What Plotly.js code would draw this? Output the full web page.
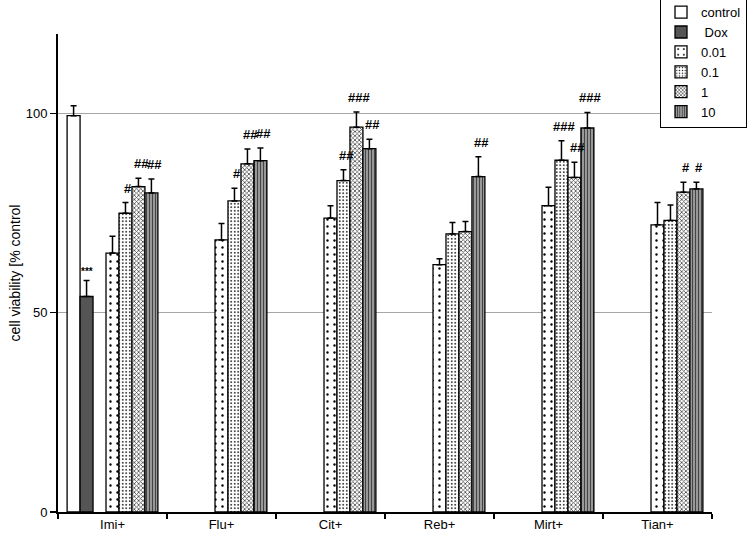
<!DOCTYPE html>
<html>
<head>
<meta charset="utf-8">
<script src="https://cdn.plot.ly/plotly-3.0.1.min.js"></script>
<style>
  html, body { margin: 0; padding: 0; background: #fff; }
  #chart { width: 750px; height: 538px; }
</style>
</head>
<body>
<div id="chart"></div>
<script>
// ---- data ----
const categories = ['Imi+', 'Flu+', 'Cit+', 'Reb+', 'Mirt+', 'Tian+'];

const controlVals = [99.5, null, null, null, null, null];
const controlErr  = [2.5, 0, 0, 0, 0, 0];
const controlSig  = ['', '', '', '', '', ''];

const doxVals = [54.1, null, null, null, null, null];
const doxErr  = [4.0, 0, 0, 0, 0, 0];
const doxSig  = ['***', '', '', '', '', ''];

const c001Vals = [65.0, 68.3, 73.8, 62.1, 76.9, 72.1];
const c001Err  = [4.2, 4.1, 3.1, 1.5, 4.6, 5.6];
const c001Sig  = ['', '', '', '', '', ''];

const c01Vals = [75.0, 78.1, 83.2, 69.8, 88.3, 73.2];
const c01Err  = [2.7, 3.2, 2.7, 2.9, 4.9, 3.9];
const c01Sig  = ['#', '#', '##', '', '###', ''];

const c1Vals = [81.7, 87.4, 96.6, 70.4, 84.0, 80.3];
const c1Err  = [2.1, 3.7, 3.8, 2.5, 3.8, 2.5];
const c1Sig  = ['##', '##', '###', '', '##', '#'];

const c10Vals = [80.1, 88.2, 91.2, 84.2, 96.4, 81.1];
const c10Err  = [3.5, 3.2, 2.4, 5.0, 3.9, 1.7];
const c10Sig  = ['##', '##', '##', '##', '###', '#'];

const seriesNames = ['control', ' Dox', '0.01', '0.1', '1', '10'];
const yTickVals = [0, 50, 100];
const yTitle = 'cell viability [% control';

// ---- styling ----
const FONT = 'Liberation Sans, Arial, sans-serif';
const slotW = 0.119;              // width of one bar slot (category units)
const slotIndex = [0, 1, 3, 4, 5, 6]; // slot 2 is left empty, as in the original
const patterns = [
  {fill: '#ffffff'},
  {fill: '#555555'},
  {fill: '#ffffff', pattern: {shape: '.', size: 7, solidity: 0.09, fgcolor: '#000', bgcolor: '#fff', fillmode: 'replace'}},
  {fill: '#ffffff', pattern: {shape: '.', size: 3.5, solidity: 0.18, fgcolor: '#000', bgcolor: '#fff', fillmode: 'replace'}},
  {fill: '#ffffff', pattern: {shape: 'x', size: 3, solidity: 0.45, fgcolor: '#444', bgcolor: '#fff', fillmode: 'replace'}},
  {fill: '#999999', pattern: {shape: '|', size: 3, solidity: 0.45, fgcolor: '#444', bgcolor: '#aaa', fillmode: 'replace'}}
];

const seriesVals = [controlVals, doxVals, c001Vals, c01Vals, c1Vals, c10Vals];
const seriesErr  = [controlErr, doxErr, c001Err, c01Err, c1Err, c10Err];
const seriesSig  = [controlSig, doxSig, c001Sig, c01Sig, c1Sig, c10Sig];

const traces = [];
const annotations = [];
seriesVals.forEach((vals, s) => {
  const off = (slotIndex[s] - 3.5) * slotW;
  const m = {color: patterns[s].fill, line: {color: '#000', width: 1.3}};
  if (patterns[s].pattern) m.pattern = patterns[s].pattern;
  traces.push({
    type: 'bar',
    name: seriesNames[s],
    x: categories,
    y: vals,
    width: slotW,
    offset: off,
    marker: m,
    error_y: {
      type: 'data', symmetric: false,
      array: seriesErr[s], arrayminus: seriesErr[s].map(() => 0),
      color: '#000', thickness: 1.5, width: 3
    },
    hoverinfo: 'skip'
  });
  seriesSig[s].forEach((t, i) => {
    if (!t || vals[i] == null) return;
    const small = t === '***';
    annotations.push({
      x: i + off + slotW / 2, y: vals[i] + seriesErr[s][i],
      xref: 'x', yref: 'y', text: '<b>' + t + '</b>', showarrow: false,
      xanchor: 'center', yanchor: 'bottom', yshift: small ? 2 : 5, xshift: small ? 0 : 3,
      font: {family: FONT, size: small ? 10 : 13, color: '#000'}
    });
  });
});

const layout = {
  width: 750, height: 538,
  margin: {l: 58, r: 38, t: 34, b: 26, autoexpand: false},
  paper_bgcolor: '#fff', plot_bgcolor: '#fff',
  font: {family: FONT, size: 13, color: '#000'},
  barmode: 'group',
  showlegend: true,
  legend: {
    x: 0.9205, xanchor: 'left', y: 0.803, yanchor: 'bottom',
    bordercolor: '#000', borderwidth: 1, bgcolor: '#fff',
    font: {family: FONT, size: 13, color: '#000'},
    itemwidth: 30, tracegroupgap: 0
  },
  xaxis: {
    type: 'category', categoryorder: 'array', categoryarray: categories,
    range: [-0.5, categories.length - 0.5],
    showline: true, linecolor: '#000', linewidth: 1.5,
    ticks: 'outside', tickson: 'boundaries', ticklen: 5, tickcolor: '#000', tickwidth: 1.2,
    showgrid: false, zeroline: false, fixedrange: true,
    tickfont: {family: FONT, size: 13, color: '#000'}
  },
  yaxis: {
    range: [0, 120], tickvals: yTickVals, ticktext: yTickVals.map(String),
    showline: true, linecolor: '#000', linewidth: 2,
    ticks: 'outside', ticklen: 6, tickcolor: '#000', tickwidth: 1.2,
    showgrid: true, gridcolor: '#a6a6a6', gridwidth: 1,
    zeroline: false, fixedrange: true,
    tickfont: {family: FONT, size: 13, color: '#000'},
    title: {text: yTitle, font: {family: FONT, size: 14, color: '#000'}, standoff: 2}
  },
  annotations: annotations
};

Plotly.newPlot('chart', traces, layout, {displayModeBar: false, staticPlot: true});
</script>
</body>
</html>
